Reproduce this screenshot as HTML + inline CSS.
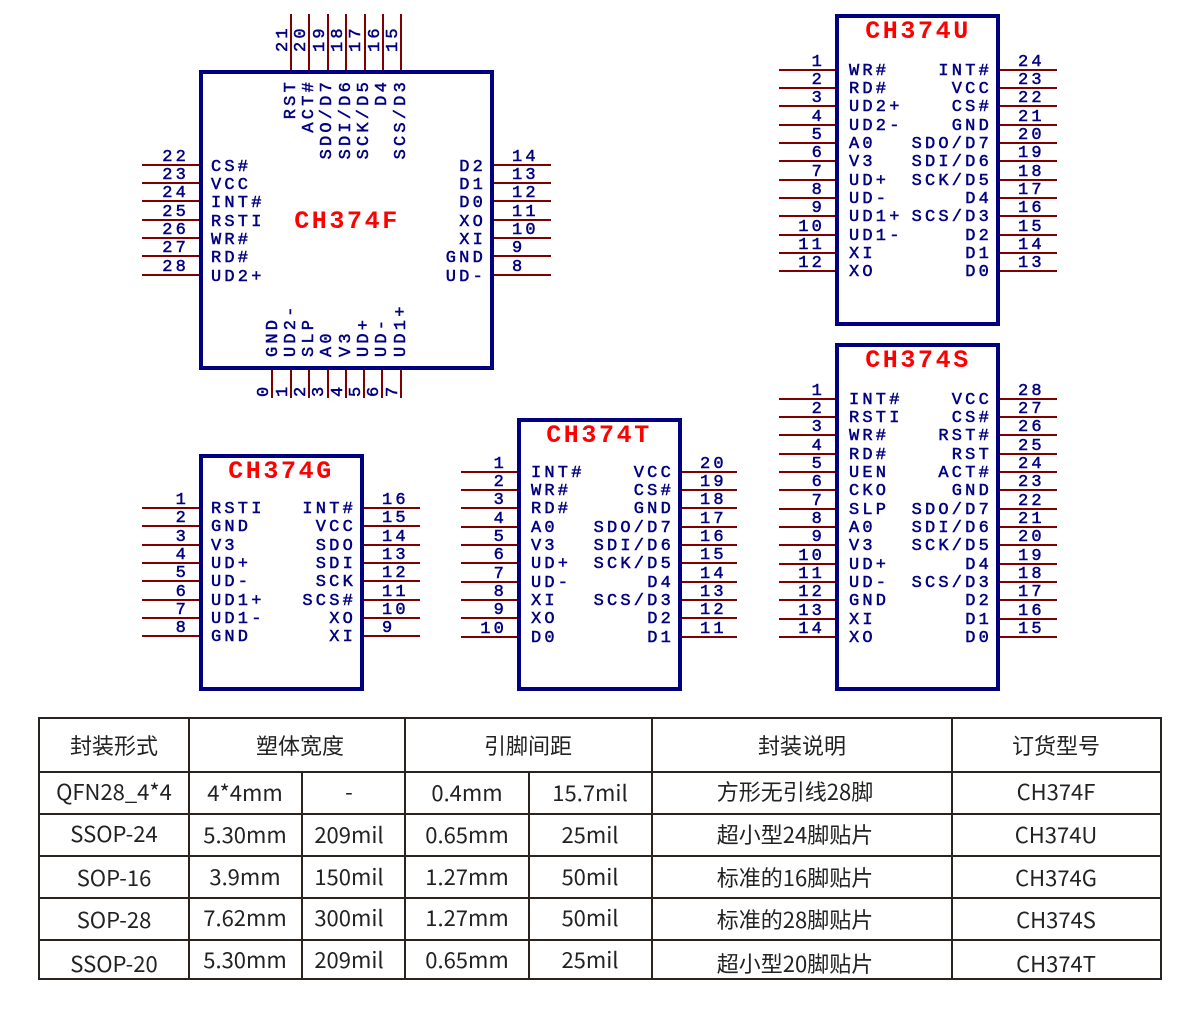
<!DOCTYPE html>
<html><head><meta charset="utf-8"><style>
html,body{margin:0;padding:0;background:#fff;}
svg{display:block}
.p{stroke:#800000;stroke-width:2}
.b{fill:none;stroke:#000080;stroke-width:4}
.t{font-family:"Liberation Mono",monospace;font-size:17px;fill:#000080;stroke:#000080;stroke-width:0.5;letter-spacing:3.2px}
.h{font-family:"Liberation Mono",monospace;font-size:25px;font-weight:bold;fill:#ff0000;letter-spacing:2.6px}
.e{text-anchor:end}
.m{text-anchor:middle}
.tb{font-family:"Noto Sans CJK SC","Liberation Sans",sans-serif;font-size:22px;fill:#222;text-anchor:middle}
.g{stroke:#2a2420;stroke-width:2}
</style></head><body>
<svg width="1200" height="1009" viewBox="0 0 1200 1009" xmlns="http://www.w3.org/2000/svg">
<!-- ================= CH374F ================= -->
<g class="p">
<line x1="142" y1="165" x2="199" y2="165"/><line x1="142" y1="183" x2="199" y2="183"/><line x1="142" y1="201" x2="199" y2="201"/><line x1="142" y1="220" x2="199" y2="220"/><line x1="142" y1="238" x2="199" y2="238"/><line x1="142" y1="256" x2="199" y2="256"/><line x1="142" y1="275" x2="199" y2="275"/>
<line x1="494" y1="165" x2="551" y2="165"/><line x1="494" y1="183" x2="551" y2="183"/><line x1="494" y1="201" x2="551" y2="201"/><line x1="494" y1="220" x2="551" y2="220"/><line x1="494" y1="238" x2="551" y2="238"/><line x1="494" y1="256" x2="551" y2="256"/><line x1="494" y1="275" x2="551" y2="275"/>
<line x1="291" y1="14" x2="291" y2="70"/><line x1="309" y1="14" x2="309" y2="70"/><line x1="328" y1="14" x2="328" y2="70"/><line x1="346" y1="14" x2="346" y2="70"/><line x1="365" y1="14" x2="365" y2="70"/><line x1="383" y1="14" x2="383" y2="70"/><line x1="401" y1="14" x2="401" y2="70"/>
<line x1="272" y1="369" x2="272" y2="398"/><line x1="291" y1="369" x2="291" y2="398"/><line x1="309" y1="369" x2="309" y2="398"/><line x1="328" y1="369" x2="328" y2="398"/><line x1="346" y1="369" x2="346" y2="398"/><line x1="364" y1="369" x2="364" y2="398"/><line x1="382" y1="369" x2="382" y2="398"/><line x1="401" y1="369" x2="401" y2="398"/>
</g>
<rect class="b" x="201" y="72" width="291" height="296"/>
<text class="h m" x="347" y="228">CH374F</text>
<g class="t">
<text class="e" x="189" y="161">22</text><text class="e" x="189" y="179">23</text><text class="e" x="189" y="197">24</text><text class="e" x="189" y="216">25</text><text class="e" x="189" y="234">26</text><text class="e" x="189" y="252">27</text><text class="e" x="189" y="271">28</text>
<text x="211" y="171">CS#</text><text x="211" y="189">VCC</text><text x="211" y="207">INT#</text><text x="211" y="226">RSTI</text><text x="211" y="244">WR#</text><text x="211" y="262">RD#</text><text x="211" y="281">UD2+</text>
<text x="512" y="161">14</text><text x="512" y="179">13</text><text x="512" y="197">12</text><text x="512" y="216">11</text><text x="512" y="234">10</text><text x="512" y="252">9</text><text x="512" y="271">8</text>
<text class="e" x="486" y="171">D2</text><text class="e" x="486" y="189">D1</text><text class="e" x="486" y="207">D0</text><text class="e" x="486" y="226">XO</text><text class="e" x="486" y="244">XI</text><text class="e" x="486" y="262">GND</text><text class="e" x="486" y="281">UD-</text>
<text transform="translate(287,52) rotate(-90)">21</text><text transform="translate(305,52) rotate(-90)">20</text><text transform="translate(324,52) rotate(-90)">19</text><text transform="translate(342,52) rotate(-90)">18</text><text transform="translate(360,52) rotate(-90)">17</text><text transform="translate(379,52) rotate(-90)">16</text><text transform="translate(397,52) rotate(-90)">15</text>
<text class="e" transform="translate(295,79) rotate(-90)">RST</text><text class="e" transform="translate(313,79) rotate(-90)">ACT#</text><text class="e" transform="translate(331,79) rotate(-90)">SDO/D7</text><text class="e" transform="translate(350,79) rotate(-90)">SDI/D6</text><text class="e" transform="translate(368,79) rotate(-90)">SCK/D5</text><text class="e" transform="translate(386,79) rotate(-90)">D4</text><text class="e" transform="translate(405,79) rotate(-90)">SCS/D3</text>
<text transform="translate(277,357) rotate(-90)">GND</text><text transform="translate(295,357) rotate(-90)">UD2-</text><text transform="translate(313,357) rotate(-90)">SLP</text><text transform="translate(331,357) rotate(-90)">A0</text><text transform="translate(350,357) rotate(-90)">V3</text><text transform="translate(368,357) rotate(-90)">UD+</text><text transform="translate(386,357) rotate(-90)">UD-</text><text transform="translate(405,357) rotate(-90)">UD1+</text>
<text transform="translate(268,397) rotate(-90)">0</text><text transform="translate(287,397) rotate(-90)">1</text><text transform="translate(305,397) rotate(-90)">2</text><text transform="translate(323,397) rotate(-90)">3</text><text transform="translate(342,397) rotate(-90)">4</text><text transform="translate(360,397) rotate(-90)">5</text><text transform="translate(378,397) rotate(-90)">6</text><text transform="translate(397,397) rotate(-90)">7</text>
</g>

<!-- ================= CH374U ================= -->
<g class="p">
<line x1="779" y1="70" x2="835" y2="70"/><line x1="779" y1="88" x2="835" y2="88"/><line x1="779" y1="106" x2="835" y2="106"/><line x1="779" y1="125" x2="835" y2="125"/><line x1="779" y1="143" x2="835" y2="143"/><line x1="779" y1="161" x2="835" y2="161"/><line x1="779" y1="180" x2="835" y2="180"/><line x1="779" y1="198" x2="835" y2="198"/><line x1="779" y1="216" x2="835" y2="216"/><line x1="779" y1="235" x2="835" y2="235"/><line x1="779" y1="253" x2="835" y2="253"/><line x1="779" y1="271" x2="835" y2="271"/>
<line x1="1000" y1="70" x2="1057" y2="70"/><line x1="1000" y1="88" x2="1057" y2="88"/><line x1="1000" y1="106" x2="1057" y2="106"/><line x1="1000" y1="125" x2="1057" y2="125"/><line x1="1000" y1="143" x2="1057" y2="143"/><line x1="1000" y1="161" x2="1057" y2="161"/><line x1="1000" y1="180" x2="1057" y2="180"/><line x1="1000" y1="198" x2="1057" y2="198"/><line x1="1000" y1="216" x2="1057" y2="216"/><line x1="1000" y1="235" x2="1057" y2="235"/><line x1="1000" y1="253" x2="1057" y2="253"/><line x1="1000" y1="271" x2="1057" y2="271"/>
</g>
<rect class="b" x="837" y="16" width="161" height="308"/>
<text class="h m" x="918" y="38">CH374U</text>
<g class="t">
<text class="e" x="825" y="66">1</text><text class="e" x="825" y="84">2</text><text class="e" x="825" y="102">3</text><text class="e" x="825" y="121">4</text><text class="e" x="825" y="139">5</text><text class="e" x="825" y="157">6</text><text class="e" x="825" y="176">7</text><text class="e" x="825" y="194">8</text><text class="e" x="825" y="212">9</text><text class="e" x="825" y="231">10</text><text class="e" x="825" y="249">11</text><text class="e" x="825" y="267">12</text>
<text x="849" y="75">WR#</text><text x="849" y="93">RD#</text><text x="849" y="111">UD2+</text><text x="849" y="130">UD2-</text><text x="849" y="148">A0</text><text x="849" y="166">V3</text><text x="849" y="185">UD+</text><text x="849" y="203">UD-</text><text x="849" y="221">UD1+</text><text x="849" y="240">UD1-</text><text x="849" y="258">XI</text><text x="849" y="276">XO</text>
<text class="e" x="992" y="75">INT#</text><text class="e" x="992" y="93">VCC</text><text class="e" x="992" y="111">CS#</text><text class="e" x="992" y="130">GND</text><text class="e" x="992" y="148">SDO/D7</text><text class="e" x="992" y="166">SDI/D6</text><text class="e" x="992" y="185">SCK/D5</text><text class="e" x="992" y="203">D4</text><text class="e" x="992" y="221">SCS/D3</text><text class="e" x="992" y="240">D2</text><text class="e" x="992" y="258">D1</text><text class="e" x="992" y="276">D0</text>
<text x="1018" y="66">24</text><text x="1018" y="84">23</text><text x="1018" y="102">22</text><text x="1018" y="121">21</text><text x="1018" y="139">20</text><text x="1018" y="157">19</text><text x="1018" y="176">18</text><text x="1018" y="194">17</text><text x="1018" y="212">16</text><text x="1018" y="231">15</text><text x="1018" y="249">14</text><text x="1018" y="267">13</text>
</g>

<!-- ================= CH374S ================= -->
<g class="p">
<line x1="779" y1="399" x2="835" y2="399"/><line x1="779" y1="417" x2="835" y2="417"/><line x1="779" y1="435" x2="835" y2="435"/><line x1="779" y1="454" x2="835" y2="454"/><line x1="779" y1="472" x2="835" y2="472"/><line x1="779" y1="490" x2="835" y2="490"/><line x1="779" y1="509" x2="835" y2="509"/><line x1="779" y1="527" x2="835" y2="527"/><line x1="779" y1="545" x2="835" y2="545"/><line x1="779" y1="564" x2="835" y2="564"/><line x1="779" y1="582" x2="835" y2="582"/><line x1="779" y1="600" x2="835" y2="600"/><line x1="779" y1="619" x2="835" y2="619"/><line x1="779" y1="637" x2="835" y2="637"/>
<line x1="1000" y1="399" x2="1057" y2="399"/><line x1="1000" y1="417" x2="1057" y2="417"/><line x1="1000" y1="435" x2="1057" y2="435"/><line x1="1000" y1="454" x2="1057" y2="454"/><line x1="1000" y1="472" x2="1057" y2="472"/><line x1="1000" y1="490" x2="1057" y2="490"/><line x1="1000" y1="509" x2="1057" y2="509"/><line x1="1000" y1="527" x2="1057" y2="527"/><line x1="1000" y1="545" x2="1057" y2="545"/><line x1="1000" y1="564" x2="1057" y2="564"/><line x1="1000" y1="582" x2="1057" y2="582"/><line x1="1000" y1="600" x2="1057" y2="600"/><line x1="1000" y1="619" x2="1057" y2="619"/><line x1="1000" y1="637" x2="1057" y2="637"/>
</g>
<rect class="b" x="837" y="345" width="161" height="344"/>
<text class="h m" x="918" y="367">CH374S</text>
<g class="t">
<text class="e" x="825" y="395">1</text><text class="e" x="825" y="413">2</text><text class="e" x="825" y="431">3</text><text class="e" x="825" y="450">4</text><text class="e" x="825" y="468">5</text><text class="e" x="825" y="486">6</text><text class="e" x="825" y="505">7</text><text class="e" x="825" y="523">8</text><text class="e" x="825" y="541">9</text><text class="e" x="825" y="560">10</text><text class="e" x="825" y="578">11</text><text class="e" x="825" y="596">12</text><text class="e" x="825" y="615">13</text><text class="e" x="825" y="633">14</text>
<text x="849" y="404">INT#</text><text x="849" y="422">RSTI</text><text x="849" y="440">WR#</text><text x="849" y="459">RD#</text><text x="849" y="477">UEN</text><text x="849" y="495">CKO</text><text x="849" y="514">SLP</text><text x="849" y="532">A0</text><text x="849" y="550">V3</text><text x="849" y="569">UD+</text><text x="849" y="587">UD-</text><text x="849" y="605">GND</text><text x="849" y="624">XI</text><text x="849" y="642">XO</text>
<text class="e" x="992" y="404">VCC</text><text class="e" x="992" y="422">CS#</text><text class="e" x="992" y="440">RST#</text><text class="e" x="992" y="459">RST</text><text class="e" x="992" y="477">ACT#</text><text class="e" x="992" y="495">GND</text><text class="e" x="992" y="514">SDO/D7</text><text class="e" x="992" y="532">SDI/D6</text><text class="e" x="992" y="550">SCK/D5</text><text class="e" x="992" y="569">D4</text><text class="e" x="992" y="587">SCS/D3</text><text class="e" x="992" y="605">D2</text><text class="e" x="992" y="624">D1</text><text class="e" x="992" y="642">D0</text>
<text x="1018" y="395">28</text><text x="1018" y="413">27</text><text x="1018" y="431">26</text><text x="1018" y="450">25</text><text x="1018" y="468">24</text><text x="1018" y="486">23</text><text x="1018" y="505">22</text><text x="1018" y="523">21</text><text x="1018" y="541">20</text><text x="1018" y="560">19</text><text x="1018" y="578">18</text><text x="1018" y="596">17</text><text x="1018" y="615">16</text><text x="1018" y="633">15</text>
</g>

<!-- ================= CH374T ================= -->
<g class="p">
<line x1="461" y1="472" x2="517" y2="472"/><line x1="461" y1="490" x2="517" y2="490"/><line x1="461" y1="508" x2="517" y2="508"/><line x1="461" y1="527" x2="517" y2="527"/><line x1="461" y1="545" x2="517" y2="545"/><line x1="461" y1="563" x2="517" y2="563"/><line x1="461" y1="582" x2="517" y2="582"/><line x1="461" y1="600" x2="517" y2="600"/><line x1="461" y1="618" x2="517" y2="618"/><line x1="461" y1="637" x2="517" y2="637"/>
<line x1="681" y1="472" x2="737" y2="472"/><line x1="681" y1="490" x2="737" y2="490"/><line x1="681" y1="508" x2="737" y2="508"/><line x1="681" y1="527" x2="737" y2="527"/><line x1="681" y1="545" x2="737" y2="545"/><line x1="681" y1="563" x2="737" y2="563"/><line x1="681" y1="582" x2="737" y2="582"/><line x1="681" y1="600" x2="737" y2="600"/><line x1="681" y1="618" x2="737" y2="618"/><line x1="681" y1="637" x2="737" y2="637"/>
</g>
<rect class="b" x="519" y="420" width="161" height="269"/>
<text class="h m" x="599" y="442">CH374T</text>
<g class="t">
<text class="e" x="507" y="468">1</text><text class="e" x="507" y="486">2</text><text class="e" x="507" y="504">3</text><text class="e" x="507" y="523">4</text><text class="e" x="507" y="541">5</text><text class="e" x="507" y="559">6</text><text class="e" x="507" y="578">7</text><text class="e" x="507" y="596">8</text><text class="e" x="507" y="614">9</text><text class="e" x="507" y="633">10</text>
<text x="531" y="477">INT#</text><text x="531" y="495">WR#</text><text x="531" y="513">RD#</text><text x="531" y="532">A0</text><text x="531" y="550">V3</text><text x="531" y="568">UD+</text><text x="531" y="587">UD-</text><text x="531" y="605">XI</text><text x="531" y="623">XO</text><text x="531" y="642">D0</text>
<text class="e" x="674" y="477">VCC</text><text class="e" x="674" y="495">CS#</text><text class="e" x="674" y="513">GND</text><text class="e" x="674" y="532">SDO/D7</text><text class="e" x="674" y="550">SDI/D6</text><text class="e" x="674" y="568">SCK/D5</text><text class="e" x="674" y="587">D4</text><text class="e" x="674" y="605">SCS/D3</text><text class="e" x="674" y="623">D2</text><text class="e" x="674" y="642">D1</text>
<text x="700" y="468">20</text><text x="700" y="486">19</text><text x="700" y="504">18</text><text x="700" y="523">17</text><text x="700" y="541">16</text><text x="700" y="559">15</text><text x="700" y="578">14</text><text x="700" y="596">13</text><text x="700" y="614">12</text><text x="700" y="633">11</text>
</g>

<!-- ================= CH374G ================= -->
<g class="p">
<line x1="142" y1="508" x2="199" y2="508"/><line x1="142" y1="526" x2="199" y2="526"/><line x1="142" y1="545" x2="199" y2="545"/><line x1="142" y1="563" x2="199" y2="563"/><line x1="142" y1="581" x2="199" y2="581"/><line x1="142" y1="600" x2="199" y2="600"/><line x1="142" y1="618" x2="199" y2="618"/><line x1="142" y1="636" x2="199" y2="636"/>
<line x1="363" y1="508" x2="420" y2="508"/><line x1="363" y1="526" x2="420" y2="526"/><line x1="363" y1="545" x2="420" y2="545"/><line x1="363" y1="563" x2="420" y2="563"/><line x1="363" y1="581" x2="420" y2="581"/><line x1="363" y1="600" x2="420" y2="600"/><line x1="363" y1="618" x2="420" y2="618"/><line x1="363" y1="636" x2="420" y2="636"/>
</g>
<rect class="b" x="201" y="456" width="161" height="233"/>
<text class="h m" x="281" y="478">CH374G</text>
<g class="t">
<text class="e" x="189" y="504">1</text><text class="e" x="189" y="522">2</text><text class="e" x="189" y="541">3</text><text class="e" x="189" y="559">4</text><text class="e" x="189" y="577">5</text><text class="e" x="189" y="596">6</text><text class="e" x="189" y="614">7</text><text class="e" x="189" y="632">8</text>
<text x="211" y="513">RSTI</text><text x="211" y="531">GND</text><text x="211" y="550">V3</text><text x="211" y="568">UD+</text><text x="211" y="586">UD-</text><text x="211" y="605">UD1+</text><text x="211" y="623">UD1-</text><text x="211" y="641">GND</text>
<text class="e" x="356" y="513">INT#</text><text class="e" x="356" y="531">VCC</text><text class="e" x="356" y="550">SDO</text><text class="e" x="356" y="568">SDI</text><text class="e" x="356" y="586">SCK</text><text class="e" x="356" y="605">SCS#</text><text class="e" x="356" y="623">XO</text><text class="e" x="356" y="641">XI</text>
<text x="382" y="504">16</text><text x="382" y="522">15</text><text x="382" y="541">14</text><text x="382" y="559">13</text><text x="382" y="577">12</text><text x="382" y="596">11</text><text x="382" y="614">10</text><text x="382" y="632">9</text>
</g>

<!-- ================= TABLE ================= -->
<g class="g">
<line x1="39" y1="718" x2="1161" y2="718"/><line x1="39" y1="772" x2="1161" y2="772"/><line x1="39" y1="814" x2="1161" y2="814"/><line x1="39" y1="856" x2="1161" y2="856"/><line x1="39" y1="898" x2="1161" y2="898"/><line x1="39" y1="940" x2="1161" y2="940"/><line x1="39" y1="979" x2="1161" y2="979"/>
<line x1="39" y1="717" x2="39" y2="980"/><line x1="189" y1="717" x2="189" y2="980"/><line x1="405" y1="717" x2="405" y2="980"/><line x1="652" y1="717" x2="652" y2="980"/><line x1="952" y1="717" x2="952" y2="980"/><line x1="1161" y1="717" x2="1161" y2="980"/>
<line x1="302" y1="772" x2="302" y2="980"/><line x1="529" y1="772" x2="529" y2="980"/>
</g>
<g class="tb">
<text x="114" y="754">封装形式</text><text x="300" y="754">塑体宽度</text><text x="528" y="754">引脚间距</text><text x="802" y="754">封装说明</text><text x="1056" y="754">订货型号</text>
<text x="114" y="800">QFN28_4*4</text><text x="245" y="801">4*4mm</text><text x="349" y="800">-</text><text x="467" y="801">0.4mm</text><text x="590" y="801">15.7mil</text><text x="795" y="800">方形无引线28脚</text><text x="1056" y="800">CH374F</text>
<text x="114" y="842">SSOP-24</text><text x="245" y="843">5.30mm</text><text x="349" y="843">209mil</text><text x="467" y="843">0.65mm</text><text x="590" y="843">25mil</text><text x="795" y="843">超小型24脚贴片</text><text x="1056" y="843">CH374U</text>
<text x="114" y="886">SOP-16</text><text x="245" y="885">3.9mm</text><text x="349" y="885">150mil</text><text x="467" y="885">1.27mm</text><text x="590" y="885">50mil</text><text x="795" y="886">标准的16脚贴片</text><text x="1056" y="886">CH374G</text>
<text x="114" y="928">SOP-28</text><text x="245" y="926">7.62mm</text><text x="349" y="926">300mil</text><text x="467" y="926">1.27mm</text><text x="590" y="926">50mil</text><text x="795" y="928">标准的28脚贴片</text><text x="1056" y="928">CH374S</text>
<text x="114" y="972">SSOP-20</text><text x="245" y="968">5.30mm</text><text x="349" y="968">209mil</text><text x="467" y="968">0.65mm</text><text x="590" y="968">25mil</text><text x="795" y="972">超小型20脚贴片</text><text x="1056" y="972">CH374T</text>
</g>
</svg>
</body></html>
